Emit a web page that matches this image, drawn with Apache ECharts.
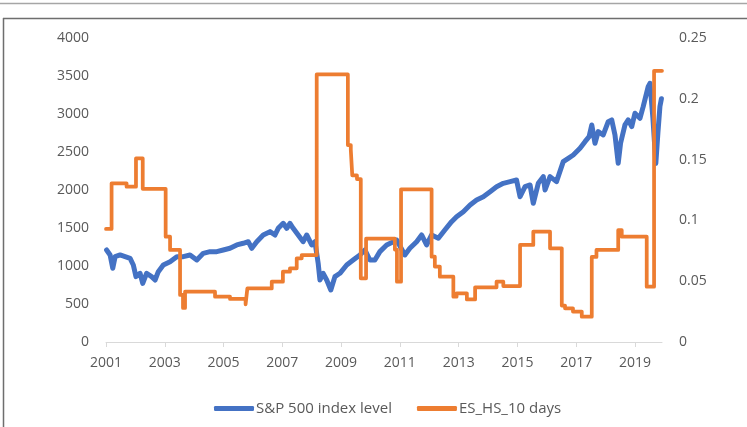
<!DOCTYPE html>
<html>
<head>
<meta charset="utf-8">
<script src="https://cdn.jsdelivr.net/npm/echarts@6/dist/echarts.min.js"></script>
<style>
  html, body { margin: 0; padding: 0; background: #fff; }
  #main { width: 747px; height: 427px; }
</style>
</head>
<body>
<div id="main"></div>
<script>
// S&P 500 index level (left axis), position in decimal years
var spxDates = [2001.02, 2001.14, 2001.23, 2001.31, 2001.48, 2001.65, 2001.82, 2001.93, 2002.02, 2002.16,
  2002.25, 2002.38, 2002.55, 2002.67, 2002.78, 2002.95, 2003.18, 2003.41, 2003.63, 2003.86,
  2004.09, 2004.31, 2004.54, 2004.77, 2004.99, 2005.22, 2005.45, 2005.67, 2005.84, 2005.96,
  2006.13, 2006.35, 2006.58, 2006.75, 2006.86, 2007.03, 2007.15, 2007.26, 2007.37, 2007.54,
  2007.71, 2007.83, 2008.00, 2008.11, 2008.22, 2008.28, 2008.39, 2008.51, 2008.65, 2008.79,
  2008.96, 2009.19, 2009.41, 2009.64, 2009.81, 2009.98, 2010.15, 2010.32, 2010.55, 2010.78,
  2010.89, 2011.17, 2011.34, 2011.57, 2011.74, 2011.91, 2012.08, 2012.31, 2012.53, 2012.76,
  2012.93, 2013.16, 2013.39, 2013.61, 2013.84, 2014.07, 2014.29, 2014.52, 2014.75, 2014.97,
  2015.09, 2015.26, 2015.43, 2015.54, 2015.71, 2015.88, 2015.94, 2016.11, 2016.33, 2016.56,
  2016.73, 2016.90, 2017.13, 2017.30, 2017.44, 2017.53, 2017.64, 2017.75, 2017.92, 2018.09,
  2018.21, 2018.32, 2018.43, 2018.51, 2018.66, 2018.77, 2018.89, 2019.00, 2019.17, 2019.28,
  2019.45, 2019.51, 2019.61, 2019.71, 2019.78, 2019.85, 2019.90];
var spxLevels = [1211, 1145, 970, 1123, 1145, 1123, 1101, 1013, 860, 904,
  772, 904, 860, 816, 925, 1013, 1057, 1123, 1123, 1145,
  1079, 1167, 1189, 1189, 1211, 1233, 1277, 1299, 1320, 1233,
  1320, 1408, 1452, 1408, 1496, 1562, 1496, 1562, 1496, 1408,
  1320, 1408, 1277, 1320, 1036, 816, 904, 816, 684, 860,
  904, 1013, 1079, 1145, 1211, 1079, 1079, 1189, 1277, 1320,
  1342, 1145, 1233, 1320, 1408, 1277, 1408, 1365, 1474, 1583,
  1649, 1715, 1803, 1869, 1912, 1978, 2044, 2088, 2110, 2132,
  1912, 2044, 2066, 1825, 2088, 2176, 2000, 2176, 2110, 2373,
  2417, 2461, 2549, 2636, 2702, 2856, 2615, 2768, 2724, 2899,
  2922, 2724, 2352, 2615, 2856, 2922, 2834, 3010, 2944, 3097,
  3360, 3404, 2950, 2350, 2750, 3100, 3200];

// ES_HS_10 days (right axis): value holds from each date until the next
var esDates = [2001.00, 2001.19, 2001.70, 2002.02, 2002.25, 2003.03, 2003.18, 2003.52, 2003.62, 2003.69,
  2004.71, 2005.22, 2005.75, 2005.81, 2006.64, 2007.02, 2007.26, 2007.49, 2007.66, 2008.17,
  2009.23, 2009.33, 2009.38, 2009.54, 2009.67, 2009.85, 2010.83, 2010.90, 2011.04, 2012.08,
  2012.19, 2012.36, 2012.82, 2012.93, 2013.28, 2013.56, 2014.29, 2014.52, 2015.09, 2015.54,
  2016.11, 2016.51, 2016.62, 2016.89, 2017.19, 2017.53, 2017.69, 2018.43, 2018.55, 2019.40,
  2019.65, 2019.92];
var esValues = [0.093, 0.1305, 0.1277, 0.151, 0.126, 0.0866, 0.0757, 0.0387, 0.028, 0.0414,
  0.0373, 0.0354, 0.031, 0.044, 0.0496, 0.0578, 0.0606, 0.0688, 0.0715, 0.220,
  0.162, 0.158, 0.137, 0.134, 0.0524, 0.085, 0.076, 0.0496, 0.1256, 0.0702,
  0.062, 0.0537, 0.0373, 0.040, 0.035, 0.045, 0.0496, 0.046, 0.0798, 0.0907,
  0.077, 0.030, 0.0277, 0.025, 0.0208, 0.070, 0.0757, 0.092, 0.0866, 0.0455,
  0.223, 0.223];

var yearTicks = [2001, 2003, 2005, 2007, 2009, 2011, 2013, 2015, 2017, 2019];

var spxData = spxDates.map(function (d, i) { return [d, spxLevels[i]]; });
var esData = esDates.map(function (d, i) { return [d, esValues[i]]; });

var font = '"Open Sans", sans-serif';
var grey = '#595959';

var myChart = echarts.init(document.getElementById('main'));
myChart.setOption({
  animation: false,
  backgroundColor: '#fff',
  grid: { left: 106, right: 85, top: 38, bottom: 85 },
  graphic: [
    { type: 'line', shape: { x1: 0, y1: 3.5, x2: 747, y2: 3.5 }, style: { stroke: '#a6a6a6', lineWidth: 1.5 } },
    { type: 'line', shape: { x1: 3, y1: 18.5, x2: 747, y2: 18.5 }, style: { stroke: '#6e6e6e', lineWidth: 1.5 } },
    { type: 'line', shape: { x1: 3.5, y1: 18, x2: 3.5, y2: 427 }, style: { stroke: '#6e6e6e', lineWidth: 1.5 } }
  ],
  legend: {
    left: 209,
    top: 396,
    icon: 'roundRect',
    itemWidth: 40,
    itemHeight: 5,
    itemGap: 25,
    textStyle: { fontFamily: font, fontSize: 15, color: grey, padding: [0, 0, 0, -3] },
    data: ['S&P 500 index level', 'ES_HS_10 days']
  },
  xAxis: {
    type: 'value',
    min: 2001,
    max: 2019.92,
    splitLine: { show: false },
    axisLine: { lineStyle: { color: '#d9d9d9', width: 1 } },
    axisTick: { customValues: yearTicks, length: 5, lineStyle: { color: '#d9d9d9' } },
    axisLabel: {
      customValues: yearTicks,
      margin: 14,
      fontFamily: font, fontSize: 14, color: grey,
      formatter: function (v) { return String(Math.round(v)); }
    }
  },
  yAxis: [{
    type: 'value',
    min: 0, max: 4000, interval: 500,
    splitLine: { show: false },
    axisLine: { show: false },
    axisTick: { show: false },
    axisLabel: {
      margin: 17, fontFamily: font, fontSize: 14, color: grey,
      formatter: function (v) { return String(v); }
    }
  }, {
    type: 'value',
    min: 0, max: 0.25, interval: 0.05,
    splitLine: { show: false },
    axisLine: { show: false },
    axisTick: { show: false },
    axisLabel: { margin: 17, fontFamily: font, fontSize: 14, color: grey }
  }],
  series: [{
    name: 'S&P 500 index level',
    type: 'line',
    yAxisIndex: 0,
    data: spxData,
    showSymbol: false,
    symbol: 'none',
    color: '#4472C4',
    lineStyle: { width: 5, join: 'round', cap: 'round' }
  }, {
    name: 'ES_HS_10 days',
    type: 'line',
    yAxisIndex: 1,
    step: 'end',
    data: esData,
    showSymbol: false,
    symbol: 'none',
    color: '#ED7D31',
    lineStyle: { width: 3.75, join: 'round', cap: 'round' }
  }]
});
</script>
</body>
</html>
